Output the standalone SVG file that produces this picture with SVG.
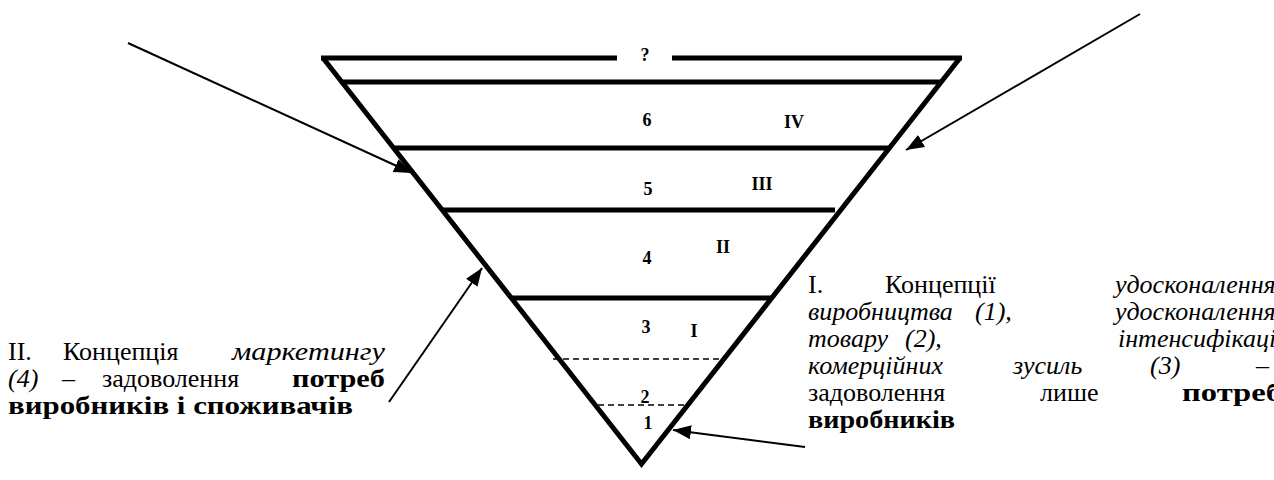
<svg xmlns="http://www.w3.org/2000/svg" width="1274" height="480" viewBox="0 0 1274 480">
<style>
.wall{fill:none;stroke:#000;stroke-width:5;stroke-linejoin:miter}
.lvl{stroke:#000;stroke-width:5}
.dash{stroke:#000;stroke-width:1.5;stroke-dasharray:6,4}
.arr{stroke:#000;stroke-width:2;fill:none;marker-end:url(#ah)}
.lab{font-family:"Liberation Serif","Times New Roman",serif;font-weight:bold;font-size:18px;text-anchor:middle}
.txt{font-family:"Liberation Serif","Times New Roman",serif;font-size:26px;fill:#000}
.i{font-style:italic}
.b{font-weight:bold}
</style>
<defs>
<marker id="ah" markerWidth="20" markerHeight="14" refX="18" refY="7" orient="auto" markerUnits="userSpaceOnUse">
<path d="M0,0 L18,7 L0,14 z" fill="#000"/>
</marker>
</defs>
<g id="pyramid">
<polyline class="wall" points="323,58 641.5,464 960,58"/>
<line class="lvl" x1="321" y1="58" x2="617" y2="58"/>
<line class="lvl" x1="672" y1="58" x2="962" y2="58"/>
<line class="lvl" x1="341" y1="82" x2="942" y2="82"/>
<line class="lvl" x1="393" y1="148" x2="890" y2="148"/>
<line class="lvl" x1="442" y1="210" x2="835" y2="210"/>
<line class="lvl" x1="511" y1="298" x2="772" y2="298"/>
<line class="dash" x1="553" y1="359" x2="722" y2="359"/>
<line class="dash" x1="598" y1="405" x2="688" y2="405"/>
</g>
<g id="labels">
<text class="lab" x="645" y="61">?</text>
<text class="lab" x="647" y="126">6</text>
<text class="lab" x="794" y="128">IV</text>
<text class="lab" x="648" y="195">5</text>
<text class="lab" x="762" y="190">III</text>
<text class="lab" x="647" y="264">4</text>
<text class="lab" x="723" y="253">II</text>
<text class="lab" x="646" y="333">3</text>
<text class="lab" x="694" y="337">I</text>
<text class="lab" x="645" y="403">2</text>
<text class="lab" x="648" y="429">1</text>
</g>
<g id="connectors">
<line class="arr" x1="128" y1="43" x2="412" y2="173"/>
<line class="arr" x1="1140" y1="14" x2="906" y2="150"/>
<line class="arr" x1="389" y1="402" x2="482" y2="268"/>
<line class="arr" x1="805" y1="447" x2="673" y2="430"/>
</g>
<g id="left-text" class="txt">
<text class="txt" x="8" y="360">II.</text>
<text class="txt" x="63" y="360">Концепція</text>
<text class="txt i" x="232" y="360" textLength="153" lengthAdjust="spacingAndGlyphs">маркетингу</text>
<text class="txt i" x="8" y="387">(4)</text>
<text class="txt" x="62" y="387">–</text>
<text class="txt" x="102" y="387">задоволення</text>
<text class="txt b" x="292" y="387" textLength="93" lengthAdjust="spacingAndGlyphs">потреб</text>
<text class="txt b" x="8" y="414" textLength="345" lengthAdjust="spacingAndGlyphs">виробників і споживачів</text>
</g>
<g id="right-text" class="txt">
<text class="txt" x="808" y="293">I.</text>
<text class="txt" x="885" y="293">Концепції</text>
<text class="txt i" x="1115" y="293">удосконалення</text>
<text class="txt i" x="808" y="320">виробництва</text>
<text class="txt i" x="975" y="320">(1),</text>
<text class="txt i" x="1115" y="320">удосконалення</text>
<text class="txt i" x="808" y="347">товару</text>
<text class="txt i" x="905" y="347">(2),</text>
<text class="txt i" x="1118" y="347">інтенсифікації</text>
<text class="txt i" x="808" y="374">комерційних</text>
<text class="txt i" x="1013" y="374">зусиль</text>
<text class="txt i" x="1150" y="374">(3)</text>
<text class="txt" x="1256" y="374">–</text>
<text class="txt" x="808" y="401">задоволення</text>
<text class="txt" x="1040" y="401">лише</text>
<text class="txt b" x="1182" y="401" textLength="100" lengthAdjust="spacingAndGlyphs">потреб</text>
<text class="txt b" x="808" y="428" textLength="147" lengthAdjust="spacingAndGlyphs">виробників</text>
</g>
</svg>
